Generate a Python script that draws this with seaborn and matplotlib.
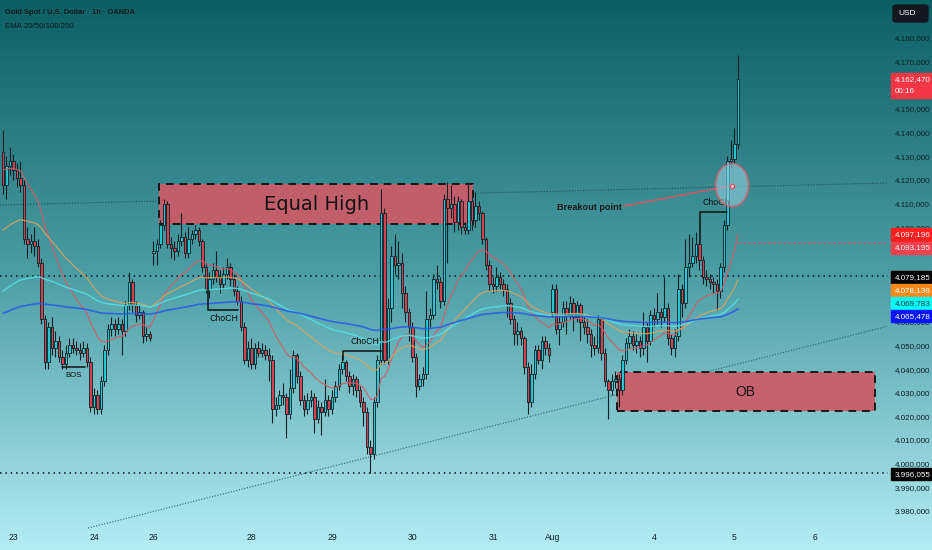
import numpy as np
import pandas as pd
import seaborn as sns
import matplotlib.pyplot as plt
from matplotlib.patches import Rectangle, Ellipse, FancyBboxPatch
from matplotlib.colors import LinearSegmentedColormap
from matplotlib.ticker import FuncFormatter
from matplotlib.transforms import blended_transform_factory

# hourly candles (index 0 = first visible bar)
closes = [4118, 4126, 4128, 4124, 4121, 4118, 4095, 4093, 4094, 4092,
          4085, 4061, 4043, 4058, 4049, 4052, 4045, 4042, 4047, 4050,
          4049, 4048, 4047, 4049, 4043, 4024, 4029, 4023, 4035, 4048,
          4057, 4059, 4057, 4059, 4056, 4067, 4077, 4067, 4063, 4064,
          4054, 4055, 4053, 4090, 4093, 4101, 4110, 4093, 4091, 4090,
          4094, 4096, 4089, 4095, 4097, 4099, 4094, 4083, 4074, 4078,
          4082, 4079, 4076, 4080, 4083, 4078, 4073, 4069, 4058, 4044,
          4049, 4042, 4049, 4047, 4048, 4046, 4044, 4023, 4025, 4029,
          4028, 4021, 4032, 4046, 4037, 4027, 4023, 4027, 4028, 4019,
          4024, 4022, 4027, 4023, 4028, 4033, 4040, 4043, 4037, 4033,
          4036, 4031, 4026, 4022, 4007, 4004, 4026, 4044, 4106, 4044,
          4066, 4088, 4084, 4085, 4072, 4064, 4058, 4045, 4033, 4036,
          4038, 4061, 4063, 4078, 4077, 4069, 4112, 4108, 4110, 4102,
          4111, 4100, 4099, 4111, 4103, 4109, 4106, 4095, 4084, 4076,
          4075, 4079, 4076, 4074, 4068, 4061, 4055, 4056, 4053, 4041,
          4026, 4038, 4048, 4044, 4052, 4049, 4046, 4074, 4057, 4060,
          4066, 4063, 4068, 4062, 4067, 4060, 4058, 4055, 4050, 4049,
          4061, 4047, 4035, 4031, 4035, 4036, 4031, 4044, 4051, 4054,
          4050, 4052, 4049, 4058, 4052, 4063, 4061, 4064, 4062, 4066,
          4053, 4049, 4054, 4074, 4068, 4083, 4085, 4088, 4093, 4086,
          4079, 4078, 4077, 4076, 4073, 4083, 4101, 4128, 4129, 4135,
          4162.47]

highs = [4141, 4130, 4134, 4131, 4127, 4128, 4120, 4100, 4097, 4100,
         4095, 4087, 4063, 4060, 4062, 4056, 4054, 4048, 4050, 4053,
         4053, 4052, 4051, 4052, 4051, 4045, 4032, 4031, 4037, 4050,
         4059, 4062, 4061, 4062, 4061, 4069, 4081, 4078, 4069, 4067,
         4065, 4058, 4056, 4094, 4095, 4103, 4112, 4111, 4096, 4094,
         4097, 4106, 4098, 4100, 4099, 4101, 4100, 4095, 4085, 4081,
         4085, 4090, 4082, 4083, 4087, 4085, 4080, 4075, 4071, 4060,
         4052, 4053, 4051, 4052, 4051, 4050, 4049, 4046, 4028, 4031,
         4034, 4030, 4040, 4048, 4047, 4039, 4029, 4030, 4031, 4030,
         4027, 4026, 4036, 4029, 4031, 4035, 4042, 4046, 4044, 4039,
         4038, 4037, 4033, 4028, 4024, 4010, 4028, 4046, 4116, 4108,
         4070, 4092, 4097, 4094, 4089, 4075, 4066, 4060, 4047, 4038,
         4041, 4073, 4066, 4080, 4084, 4079, 4114, 4119, 4118, 4113,
         4113, 4112, 4102, 4119, 4113, 4115, 4111, 4107, 4096, 4086,
         4079, 4083, 4081, 4078, 4076, 4070, 4063, 4060, 4058, 4054,
         4043, 4042, 4050, 4050, 4054, 4054, 4051, 4076, 4076, 4063,
         4069, 4069, 4071, 4070, 4069, 4068, 4062, 4061, 4057, 4054,
         4063, 4062, 4049, 4036, 4038, 4039, 4038, 4046, 4053, 4057,
         4056, 4055, 4054, 4064, 4060, 4065, 4066, 4072, 4066, 4079,
         4068, 4055, 4057, 4080, 4076, 4095, 4097, 4096, 4098, 4094,
         4088, 4082, 4080, 4079, 4078, 4085, 4103, 4130, 4137, 4142,
         4173]

lows = [4114, 4112, 4122, 4120, 4117, 4115, 4093, 4087, 4089, 4088,
        4083, 4059, 4040, 4040, 4046, 4045, 4043, 4040, 4040, 4045,
        4047, 4046, 4044, 4045, 4041, 4022, 4021, 4021, 4021, 4033,
        4046, 4054, 4054, 4055, 4046, 4054, 4065, 4064, 4060, 4061,
        4051, 4052, 4052, 4084, 4084, 4091, 4099, 4091, 4087, 4086,
        4088, 4092, 4087, 4087, 4093, 4095, 4092, 4081, 4072, 4070,
        4076, 4077, 4072, 4074, 4078, 4075, 4071, 4067, 4056, 4042,
        4041, 4040, 4040, 4045, 4045, 4044, 4035, 4017, 4020, 4023,
        4025, 4011, 4019, 4030, 4034, 4025, 4020, 4021, 4024, 4013,
        4017, 4012, 4020, 4020, 4021, 4026, 4031, 4038, 4035, 4030,
        4029, 4028, 4024, 4016, 4004, 3996, 4002, 4024, 4042, 4042,
        4042, 4060, 4080, 4078, 4066, 4060, 4052, 4043, 4028, 4031,
        4033, 4036, 4058, 4061, 4074, 4066, 4067, 4085, 4104, 4098,
        4099, 4097, 4097, 4097, 4099, 4100, 4103, 4093, 4082, 4073,
        4072, 4073, 4074, 4071, 4062, 4059, 4050, 4050, 4050, 4038,
        4021, 4024, 4036, 4042, 4040, 4046, 4043, 4062, 4055, 4050,
        4058, 4055, 4061, 4056, 4060, 4052, 4055, 4051, 4045, 4046,
        4047, 4044, 4033, 4019, 4029, 4032, 4024, 4029, 4042, 4049,
        4048, 4047, 4045, 4046, 4043, 4050, 4058, 4059, 4058, 4060,
        4050, 4046, 4045, 4052, 4062, 4066, 4079, 4083, 4085, 4082,
        4076, 4075, 4074, 4072, 4065, 4070, 4081, 4099, 4125, 4127,
        4133]

first_open = 4132
gap_opens = {43: 4089, 157: 4064}   # weekend opens

ema_periods = [20, 50, 100, 200]
ema_seeds = [4125, 4098, 4072, 4063]
ema_colors = ['#d65a66', '#dda35a', '#52e2e8', '#2a5ae6']
ema_widths = [0.9, 0.9, 1.0, 1.2]

day_pos = [3, 26, 43, 71, 94, 117, 140, 157, 186, 209, 232]
day_labels = ['23', '24', '26', '28', '29', '30', '31', 'Aug', '4', '5', '6']
# scale labels hidden behind the price tags are left out
price_ticks = [3980, 3990, 4000, 4010, 4020, 4030, 4040, 4050, 4060,
               4100, 4110, 4120, 4130, 4140, 4150, 4170, 4180]

tag_texts = ['4.097,196', '4.093,195', '4.079,185', '4.078,136', '4.069,783', '4.065,478', '3.996,055']
tag_levels = [4096.9, 4091.4, 4078.9, 4073.4, 4067.9, 4062.4, 3995.6]
tag_bg = ['#ff1f1f', '#f0414f', '#000000', '#fb8a1c', '#00ffff', '#0a16ff', '#000000']
tag_fg = ['white', 'white', 'white', 'white', '#0a2a2a', 'white', 'white']

# drawings (zones / trendlines) in chart coordinates
equal_high = (44.6, 134.3, 4101.4, 4118.3)
ob_zone = (175.4, 249.1, 4022.3, 4038.8)
upper_trend = ([-0.9, 252.9], [4109.4, 4118.7])
lower_trend = ([24.3, 252.9], [3972.8, 4058.2])

sns.set_theme(style='white')
plt.rcParams['font.family'] = ['Liberation Sans', 'DejaVu Sans']

n = len(closes)
opens = [first_open] + closes[:-1]
for k, v in gap_opens.items():
    opens[k] = v
df = pd.DataFrame({'i': range(n), 'open': opens, 'high': highs, 'low': lows, 'close': closes})
for p, s in zip(ema_periods, ema_seeds):
    a = 2 / (p + 1)
    e = s
    vals = []
    for c in closes:
        e = e + a * (c - e)
        vals.append(e)
    df['ema%d' % p] = vals

fig = plt.figure(figsize=(9.32, 5.5), dpi=100)
bg = fig.add_axes([0, 0, 1, 1])
bg.axis('off')
cmap = LinearSegmentedColormap.from_list('tv', ['#0c5f63', '#4c9ea5', '#b4ecf4'])
bg.imshow(np.linspace(0, 1, 256)[:, None], aspect='auto', cmap=cmap, extent=[0, 1, 0, 1])

ax = fig.add_axes([0, 0, 888 / 932, 1])
ax.set_zorder(1)
ax.patch.set_alpha(0)
ax.set_xlim(-3 / 3.5, 885 / 3.5)
ax.set_ylim(3963.5, 4196.07)

# level lines and trendlines
for lv in [4079.185, 3996.055]:
    ax.axhline(lv, color='#0a1416', lw=1.1, ls=(0, (1, 2.5)), zorder=2)
ax.plot(*upper_trend, color='#1d5257', lw=0.8, ls=(0, (1, 1.5)), zorder=2)
ax.plot(*lower_trend, color='#2a666c', lw=0.8, ls=(0, (1, 1.5)), zorder=2)
ax.plot([210, 252.9], [4093.195, 4093.195], color='#e0505e', lw=0.9, ls=(0, (2, 2)), zorder=2)

# zones
for (x0, x1, y0, y1) in [equal_high, ob_zone]:
    ax.add_patch(Rectangle((x0, y0), x1 - x0, y1 - y0, facecolor='#c95c68', edgecolor='#111111',
                           lw=1.4, ls=(0, (4, 3)), alpha=0.95, zorder=2.5))
ax.text((equal_high[0] + equal_high[1]) / 2, 4109.6, 'Equal High', ha='center', va='center',
        fontsize=14, color='#141414', family='DejaVu Sans', zorder=3)
ax.text(212.0, 4030.4, 'OB', ha='center', va='center',
        fontsize=10, color='#141414', zorder=3)

# candles
up = df['close'] >= df['open']
body_lo = np.minimum(df['open'], df['close'])
body_h = (df['close'] - df['open']).abs().clip(lower=0.4)
ax.vlines(df['i'], df['low'], df['high'], color='#0d2125', lw=0.8, zorder=4)
ax.bar(df['i'], body_h, bottom=body_lo, width=0.72, color=np.where(up, '#27c4d4', '#d3404f'),
       edgecolor='#0d2125', linewidth=0.6, zorder=5)

# EMAs
for p, c, w in zip(ema_periods, ema_colors, ema_widths):
    sns.lineplot(data=df, x='i', y='ema%d' % p, color=c, lw=w, alpha=0.85, ax=ax, zorder=6)
ax.set_xlabel('')
ax.set_ylabel('')

# structure marks
ax.plot([16.9, 23.4], [4041, 4041], color='#111111', lw=1.1, zorder=7)
ax.text(20.3, 4037.2, 'BOS', ha='center', va='center', fontsize=5.6, color='#111111', zorder=7)
ax.plot([58.6, 58.6, 67.1], [4074, 4065, 4065], color='#111111', lw=1.1, zorder=7)
ax.text(63.1, 4061.4, 'ChoCH', ha='center', va='center', fontsize=6.3, color='#111111', zorder=7)
ax.plot([97.1, 97.1, 108.3], [4043.8, 4047.7, 4047.7], color='#111111', lw=1.1, zorder=7)
ax.text(103.4, 4051.6, 'ChoCH', ha='center', va='center', fontsize=6.3, color='#111111', zorder=7)
ax.plot([199.1, 199.1, 206.9], [4093.3, 4106.4, 4106.4], color='#111111', lw=1.1, zorder=7)
ax.text(203.8, 4110.3, 'ChoCh', ha='center', va='center', fontsize=6.3, color='#111111', zorder=7)

# breakout marker
ax.text(158.3, 4108.4, 'Breakout point', ha='left', va='center', fontsize=6.6,
        fontweight='bold', color='#1a1a1a', zorder=7)
ax.plot([177.3, 208.3], [4108.9, 4117.6], color='#e0505e', lw=1, zorder=7)
ax.add_patch(Ellipse((208.3, 4117.8), 9.4, 18.2, facecolor='#92cde0', alpha=0.6,
                     edgecolor='#e25a68', lw=1.6, zorder=7.5))
ax.plot([208.3], [4117.6], 'o', ms=3, mfc='white', mec='#e0505e', mew=1, zorder=8)

# axes / ticks
ax.yaxis.tick_right()
ax.set_yticks(price_ticks)
ax.yaxis.set_major_formatter(FuncFormatter(
    lambda v, _: format(v, ',.3f').replace(',', ' ').replace('.', ',').replace(' ', '.')))
ax.tick_params(axis='y', length=0, pad=5, labelsize=5.8, labelcolor='#0f2226')
ax.set_xticks(day_pos, day_labels)
ax.tick_params(axis='x', length=0, pad=-12, labelsize=6.2, labelcolor='#0f2226')
for s in ax.spines.values():
    s.set_visible(False)

# price tags on the scale
tr = blended_transform_factory(ax.transAxes, ax.transData)
for t, lv, b, f in zip(tag_texts, tag_levels, tag_bg, tag_fg):
    ax.add_patch(Rectangle((1.0034, lv - 2.55), 0.045, 5.1, transform=tr, color=b, clip_on=False, zorder=9))
    ax.text(1.0075, lv, t, transform=tr, fontsize=5.8, color=f, va='center', ha='left', clip_on=False, zorder=10)
ax.add_patch(Rectangle((1.0034, 4154.6), 0.045, 10.6, transform=tr, color='#f23645', clip_on=False, zorder=9))
ax.text(1.0075, 4162.3, '4.162,470', transform=tr, fontsize=5.8, color='white', va='center', clip_on=False, zorder=10)
ax.text(1.0075, 4157.5, '00:16', transform=tr, fontsize=5.8, color='white', va='center', clip_on=False, zorder=10)

# header
fig.text(5 / 932, 1 - 12 / 550, 'Gold Spot / U.S. Dollar · 1h · OANDA', fontsize=5.4,
         fontweight='bold', color='#0c1a1c', va='center')
fig.text(5 / 932, 1 - 26 / 550, 'EMA 20/50/100/200', fontsize=5.7, color='#0c1a1c', va='center')
fig.patches.append(FancyBboxPatch((893 / 932, 1 - 22 / 550), 35 / 932, 17 / 550,
                                  boxstyle='round,pad=0,rounding_size=0.004',
                                  transform=fig.transFigure, color='#131722', zorder=5))
fig.text(898 / 932, 1 - 13.5 / 550, 'USD', fontsize=6, color='white', va='center', zorder=6)

fig.savefig('out.png', dpi=100)
